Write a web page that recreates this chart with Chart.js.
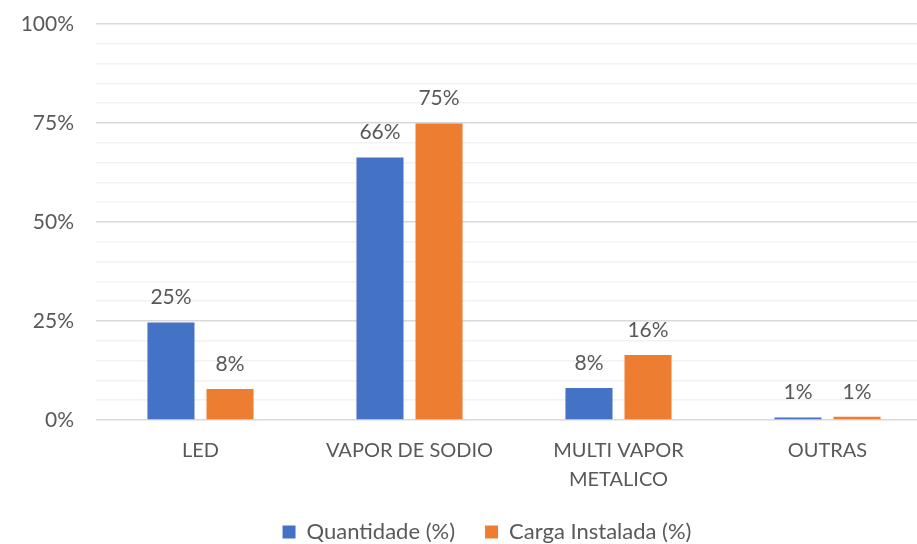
<!DOCTYPE html>
<html>
<head>
<meta charset="utf-8">
<script src="https://cdn.jsdelivr.net/npm/chart.js@4.4.1/dist/chart.umd.min.js"></script>
<style>
  html, body { margin: 0; padding: 0; background: #fff; overflow: hidden; }
  #wrap { width: 932px; height: 544px; }
</style>
</head>
<body>
<div id="wrap"><canvas id="chart"></canvas></div>
<script>
const categories = ['LED', 'VAPOR DE SODIO', ['MULTI VAPOR', 'METALICO'], 'OUTRAS'];
const quantidade = [24.6, 66.3, 8.1, 0.6];
const cargaInstalada = [7.8, 74.9, 16.4, 0.8];
const yTicks = [0, 25, 50, 75, 100];

const textColor = '#595959';
const fontFamily = 'Lato, "Open Sans", sans-serif';

// draws the rounded percentage above every bar
const valueLabels = {
  id: 'valueLabels',
  afterDatasetsDraw(chart) {
    const ctx = chart.ctx;
    ctx.save();
    ctx.font = '21px ' + fontFamily;
    ctx.fillStyle = textColor;
    ctx.textAlign = 'center';
    ctx.textBaseline = 'middle';
    chart.data.datasets.forEach((ds, i) => {
      chart.getDatasetMeta(i).data.forEach((bar, j) => {
        ctx.fillText(Math.round(ds.data[j]) + '%', bar.x, bar.y - 25);
      });
    });
    ctx.restore();
  }
};

// moves the legend from its default slot
const legendOffset = {
  id: 'legendOffset',
  afterLayout(chart) {
    const lg = chart.legend;
    lg.left += 21; lg.right += 21;
    lg.top -= 9; lg.bottom -= 9;
  }
};

const ctx = document.getElementById('chart').getContext('2d');
new Chart(ctx, {
  type: 'bar',
  data: {
    labels: categories,
    datasets: [
      { label: 'Quantidade (%)', data: quantidade, backgroundColor: '#4472C4' },
      { label: 'Carga Instalada (%)', data: cargaInstalada, backgroundColor: '#ED7D31' }
    ]
  },
  plugins: [valueLabels, legendOffset],
  options: {
    responsive: true,
    maintainAspectRatio: false,
    animation: false,
    layout: { padding: { top: 24, right: 0, left: 0, bottom: -18 } },
    datasets: {
      bar: { categoryPercentage: 0.565, barPercentage: 0.797 }
    },
    plugins: {
      tooltip: { enabled: false },
      legend: {
        position: 'bottom',
        labels: {
          boxWidth: 13,
          boxHeight: 13,
          padding: 30,
          color: textColor,
          font: { family: fontFamily, size: 22 }
        }
      }
    },
    scales: {
      x: {
        grid: { display: false },
        border: { display: false },
        ticks: {
          color: textColor,
          padding: 8,
          maxRotation: 0,
          font: { family: fontFamily, size: 20, lineHeight: 1.45 }
        },
        afterFit(scale) { scale.height = 80; }
      },
      y: {
        min: 0,
        max: 100,
        border: { display: false },
        grid: {
          drawTicks: false,
          color: (c) => yTicks.includes(c.tick.value) ? '#d9d9d9' : '#f2f2f2',
          lineWidth: 1.5
        },
        ticks: {
          stepSize: 5,
          autoSkip: false,
          padding: 22,
          color: textColor,
          font: { family: fontFamily, size: 21 },
          callback: (v) => yTicks.includes(v) ? v + '%' : ''
        },
        afterFit(scale) {
          scale.width = 96;
          scale.paddingTop = 0;
          scale.paddingBottom = 0;
        }
      }
    }
  }
});
</script>
</body>
</html>
